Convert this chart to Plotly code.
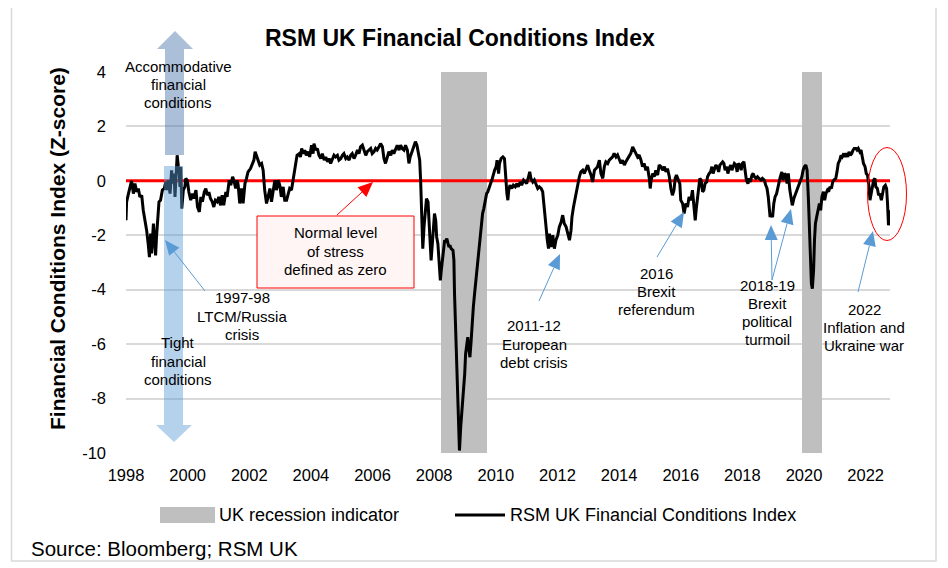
import plotly.graph_objects as go

# ---------------- data ----------------
years = [
    1998.00, 1998.02, 1998.08, 1998.13, 1998.18, 1998.24, 1998.29, 1998.35, 1998.40, 1998.45,
    1998.51, 1998.56, 1998.62, 1998.67, 1998.72, 1998.76, 1998.80, 1998.83, 1998.89, 1998.93,
    1998.96, 1998.99, 1999.03, 1999.07, 1999.12, 1999.18, 1999.24, 1999.29, 1999.32, 1999.37,
    1999.43, 1999.48, 1999.51, 1999.56, 1999.59, 1999.62, 1999.66, 1999.70, 1999.73, 1999.75,
    1999.78, 1999.81, 1999.86, 1999.91, 1999.94, 1999.99, 2000.04, 2000.10, 2000.16, 2000.20,
    2000.27, 2000.32, 2000.38, 2000.43, 2000.48, 2000.54, 2000.59, 2000.64, 2000.69, 2000.74,
    2000.80, 2000.85, 2000.90, 2000.96, 2001.01, 2001.07, 2001.12, 2001.17, 2001.24, 2001.28,
    2001.35, 2001.40, 2001.46, 2001.50, 2001.56, 2001.61, 2001.64, 2001.69, 2001.75, 2001.80,
    2001.86, 2001.91, 2001.96, 2002.04, 2002.10, 2002.15, 2002.19, 2002.23, 2002.29, 2002.34,
    2002.40, 2002.45, 2002.50, 2002.56, 2002.61, 2002.67, 2002.72, 2002.77, 2002.83, 2002.88,
    2002.94, 2002.99, 2003.04, 2003.10, 2003.15, 2003.21, 2003.26, 2003.31,
    2003.37, 2003.42, 2003.45, 2003.51, 2003.55, 2003.62, 2003.66, 2003.70, 2003.75, 2003.80,
    2003.85, 2003.91, 2003.96, 2004.02, 2004.07, 2004.10, 2004.16, 2004.21, 2004.26, 2004.32,
    2004.37, 2004.43, 2004.48, 2004.54, 2004.59, 2004.64, 2004.70, 2004.75, 2004.80, 2004.86,
    2004.91, 2004.97, 2005.02, 2005.07, 2005.13, 2005.18, 2005.24, 2005.29, 2005.34, 2005.40,
    2005.45, 2005.51, 2005.56, 2005.61, 2005.67, 2005.72, 2005.78, 2005.83, 2005.89, 2005.94,
    2005.99, 2006.05, 2006.10, 2006.15, 2006.21, 2006.26, 2006.32, 2006.37, 2006.42, 2006.48,
    2006.53, 2006.59, 2006.64, 2006.69, 2006.75, 2006.80, 2006.86, 2006.91, 2006.96, 2007.02,
    2007.07, 2007.13, 2007.18, 2007.22, 2007.28, 2007.33, 2007.39, 2007.44, 2007.49,
    2007.53, 2007.56, 2007.58, 2007.60, 2007.63, 2007.67, 2007.71, 2007.75, 2007.80, 2007.83,
    2007.86, 2007.90, 2007.94, 2007.97, 2008.01, 2008.05, 2008.08, 2008.12, 2008.15, 2008.20,
    2008.23, 2008.26, 2008.30, 2008.34, 2008.37, 2008.41, 2008.45, 2008.48, 2008.51, 2008.55,
    2008.61, 2008.64, 2008.66, 2008.69, 2008.73, 2008.76, 2008.78, 2008.80, 2008.82, 2008.86,
    2008.89, 2008.92, 2008.95, 2008.99, 2009.02, 2009.05, 2009.09, 2009.13, 2009.16, 2009.20,
    2009.23, 2009.27, 2009.31, 2009.35, 2009.39, 2009.44, 2009.48, 2009.52, 2009.57, 2009.61,
    2009.66, 2009.70, 2009.74, 2009.78, 2009.83, 2009.87, 2009.91, 2009.96,
    2010.01, 2010.04, 2010.09, 2010.12, 2010.17, 2010.23, 2010.28, 2010.31, 2010.36, 2010.39,
    2010.42, 2010.46, 2010.52, 2010.57, 2010.63, 2010.68, 2010.73, 2010.79, 2010.84, 2010.90,
    2010.95, 2011.00, 2011.06, 2011.10, 2011.14, 2011.20, 2011.25, 2011.31, 2011.36, 2011.41,
    2011.47, 2011.52, 2011.55, 2011.60, 2011.63, 2011.67, 2011.71, 2011.74, 2011.79, 2011.85,
    2011.90, 2011.95, 2012.01, 2012.06, 2012.12, 2012.17, 2012.22, 2012.28, 2012.33, 2012.39,
    2012.44, 2012.47, 2012.52, 2012.56, 2012.60, 2012.66, 2012.71, 2012.76, 2012.82, 2012.87,
    2012.93, 2012.98, 2013.03, 2013.09, 2013.14, 2013.20, 2013.25, 2013.30, 2013.36, 2013.41,
    2013.47, 2013.52, 2013.57, 2013.63, 2013.68, 2013.74, 2013.79, 2013.84, 2013.90, 2013.95,
    2014.01, 2014.06, 2014.11, 2014.17, 2014.22, 2014.28, 2014.33, 2014.38, 2014.44, 2014.49,
    2014.55, 2014.60, 2014.65, 2014.71, 2014.76, 2014.81, 2014.87, 2014.92, 2014.98, 2015.01,
    2015.04, 2015.09, 2015.14, 2015.19, 2015.25, 2015.30, 2015.36, 2015.41, 2015.47, 2015.52,
    2015.57, 2015.63, 2015.68, 2015.73, 2015.78, 2015.82, 2015.86, 2015.92, 2015.97, 2016.00,
    2016.06, 2016.11, 2016.17, 2016.22, 2016.27,
    2016.33, 2016.38, 2016.44, 2016.47, 2016.51, 2016.58, 2016.62, 2016.66, 2016.71, 2016.75,
    2016.79, 2016.84, 2016.87, 2016.92, 2016.97, 2017.01, 2017.05, 2017.10, 2017.14, 2017.18,
    2017.23, 2017.27, 2017.31, 2017.36, 2017.40, 2017.44, 2017.49, 2017.53, 2017.57, 2017.62,
    2017.66, 2017.70, 2017.74, 2017.79, 2017.83, 2017.87, 2017.92, 2017.96, 2018.00, 2018.05,
    2018.09, 2018.13, 2018.18, 2018.22, 2018.26, 2018.31, 2018.35, 2018.39, 2018.44, 2018.49,
    2018.54, 2018.60, 2018.65, 2018.71, 2018.76, 2018.80, 2018.84, 2018.87, 2018.90, 2018.93,
    2018.98, 2019.02, 2019.06, 2019.11, 2019.15, 2019.19, 2019.23, 2019.28, 2019.32, 2019.37,
    2019.41, 2019.45, 2019.49, 2019.54, 2019.58, 2019.62, 2019.67, 2019.71, 2019.75, 2019.80,
    2019.84, 2019.88, 2019.93, 2019.97, 2020.01, 2020.06, 2020.10, 2020.14, 2020.17, 2020.21,
    2020.24, 2020.27, 2020.31, 2020.34, 2020.37, 2020.41, 2020.46, 2020.50, 2020.54, 2020.58,
    2020.63, 2020.67, 2020.71, 2020.76, 2020.80, 2020.84, 2020.89, 2020.93, 2020.97, 2021.03,
    2021.07, 2021.11, 2021.16, 2021.20, 2021.24, 2021.29, 2021.33, 2021.37, 2021.42, 2021.46,
    2021.50, 2021.55, 2021.59, 2021.63, 2021.68, 2021.72, 2021.76, 2021.81, 2021.85, 2021.89,
    2021.93, 2021.98, 2022.02, 2022.06, 2022.11, 2022.14, 2022.17, 2022.22, 2022.26, 2022.30,
    2022.33, 2022.38, 2022.42, 2022.46, 2022.51, 2022.55, 2022.59, 2022.64, 2022.68, 2022.71,
    2022.74, 2022.76, 2022.78, 2022.79,
]

fci = [
    -1.45, -0.77, -0.47, -0.16, 0.00, -0.47, -0.10, -0.41, -0.28, -0.59,
    -0.53, -1.08, -1.45, -1.82, -2.31, -2.80, -1.94, -2.67, -1.57, -2.18,
    -2.74, -2.06, -1.20, -0.77, -0.71, -0.34, -0.28, -0.04, -0.34, 0.02,
    -0.47, 0.39, -0.10, 0.27, -0.59, 0.15, 0.94, 0.52, 0.27, -0.22,
    0.52, -1.02, -0.34, -0.22, 0.09, 0.02, -0.41, -0.71, -0.47, -0.65,
    -0.34, -0.96, -1.14, -0.59, -0.77, -0.41, -0.28, -0.53, -0.41, -0.65,
    -0.77, -0.96, -0.71, -0.77, -0.59, -0.90, -0.53, -0.90, -0.41, -0.59,
    0.02, -0.16, 0.15, 0.02, -0.28, 0.02, -0.16, -0.83, -0.28, -0.83,
    -0.10, 0.09, 0.33, 0.45, 0.64, 0.76, 1.07, 0.94, 0.70, 0.58,
    0.64, 0.39, -0.34, -0.83, -0.59, -0.28, -0.77, -0.47, 0.02, -0.34,
    0.02, -0.16, -0.59, -0.22, -0.71, -0.71, -0.53, -0.28,
    -0.34, 0.02, 0.33, 0.64, 0.94, 1.00, 0.88, 1.19, 1.00, 1.13,
    0.94, 1.07, 0.88, 1.31, 1.00, 1.37, 1.13, 1.19, 0.94, 0.82,
    1.00, 0.76, 0.88, 0.70, 0.82, 0.64, 0.82, 0.94, 0.88, 0.94,
    0.76, 0.82, 0.94, 1.00, 0.82, 0.88, 0.76, 0.94, 1.00, 0.82,
    0.94, 1.13, 1.00, 1.25, 1.31, 1.13, 0.94, 1.07, 1.13, 1.19,
    1.00, 1.07, 1.19, 1.13, 1.25, 1.37, 1.25, 0.82, 0.64, 0.88,
    1.07, 0.94, 1.13, 1.00, 1.19, 1.31, 1.13, 1.31, 1.19, 1.13,
    1.31, 1.13, 0.64, 0.88, 1.07, 1.25, 1.44, 1.31, 1.00,
    0.76, 0.02, -0.83, -1.82, -2.49, -1.69, -0.96, -0.65, -0.77, -1.33,
    -2.06, -2.92, -2.31, -1.69, -1.20, -1.45, -2.06, -2.31, -2.92, -3.66,
    -3.29, -2.92, -2.43, -2.18, -2.25, -2.12, -2.31, -2.43, -2.37, -2.49,
    -2.55, -2.92, -4.15, -5.37, -6.60, -7.83, -9.05, -9.79, -9.91, -9.05,
    -8.56, -8.07, -7.95, -7.09, -6.35, -6.11, -5.74, -6.23, -6.48, -5.86,
    -5.13, -4.64, -4.15, -3.66, -3.29, -2.80, -2.31, -1.69, -1.20, -1.02,
    -0.71, -0.47, -0.40, -0.22, -0.10, 0.02, 0.21, 0.39,
    0.52, 0.76, 0.27, 0.64, 0.82, 0.88, 0.82, 0.27, -0.47, -0.71,
    -0.34, -0.16, -0.28, -0.16, -0.22, -0.10, -0.22, -0.04, -0.16, 0.03,
    -0.04, -0.10, 0.15, 0.33, 0.09, -0.04, 0.03, -0.16, -0.28, -0.22,
    -0.28, -0.40, -0.83, -1.45, -1.69, -2.18, -2.49, -1.94, -2.43, -2.00,
    -2.49, -2.18, -2.00, -1.69, -1.51, -1.26, -1.57, -1.69, -1.94, -2.18,
    -1.82, -1.33, -0.96, -0.71, -0.59, -0.22, 0.15, 0.33, 0.39, 0.27,
    0.45, 0.58, 0.39, 0.21, -0.04, 0.39, 0.45, 0.52, 0.76, 0.27,
    0.09, 0.52, 0.70, 0.64, 0.76, 0.82, 0.88, 1.01, 0.88, 0.95,
    0.76, 0.64, 0.76, 0.58, 0.70, 0.82, 0.88, 1.01, 1.25, 1.13,
    1.01, 0.88, 0.95, 0.76, 0.52, 0.64, 0.39, 0.52, 0.09, -0.28,
    0.03, 0.27, 0.15, 0.39, 0.21, 0.58, 0.52, 0.39, 0.52, 0.33,
    0.45, 0.15, -0.28, -0.53, -0.34, 0.09, 0.21, 0.03, -0.10, -0.71,
    -0.83, -1.20, -0.83, -0.96, -0.59,
    -0.71, -0.34, -1.08, -1.45, -0.96, -0.28, 0.09, 0.03, -0.40, -0.34,
    -0.10, -0.04, 0.15, 0.27, 0.33, 0.52, 0.27, 0.45, 0.58, 0.52,
    0.33, 0.58, 0.64, 0.70, 0.64, 0.39, 0.52, 0.27, 0.45, 0.58,
    0.39, 0.52, 0.64, 0.58, 0.33, 0.64, 0.58, 0.39, 0.64, 0.70,
    0.39, 0.03, -0.10, 0.09, -0.04, 0.21, 0.27, 0.15, 0.09, 0.15,
    0.09, 0.03, 0.09, 0.03, -0.16, -0.28, -0.59, -0.96, -1.33, -1.20,
    -1.33, -0.83, -0.59, -0.47, -0.22, -0.10, 0.15, 0.33, 0.03, 0.27,
    0.21, -0.10, 0.27, -0.34, -0.71, -0.90, -0.65, -0.53, -0.34, -0.22,
    -0.10, 0.03, 0.15, 0.39, 0.52, 0.58, 0.39, -0.59, -1.82, -3.04,
    -3.78, -3.96, -3.29, -2.18, -1.57, -1.33, -1.08, -0.83, -1.08, -0.59,
    -0.40, -0.71, -0.47, -0.34, -0.40, -0.22, -0.28, -0.04, 0.03, 0.09,
    0.33, 0.64, 0.76, 0.94, 0.88, 1.01, 0.88, 1.01, 0.88, 1.07,
    0.94, 1.01, 1.13, 1.19, 1.19, 1.13, 1.19, 1.07, 1.13, 0.88,
    0.64, 0.52, 0.27, 0.21, -0.22, -0.71, -0.47, -0.22, 0.03, 0.09,
    -0.22, -0.28, -0.53, -0.47, -0.71, -0.40, -0.22, -0.16, -0.28, -0.83,
    -1.63, -1.45, -1.14, -1.08,
]

recession_start = [2008.21, 2019.95]
recession_end = [2009.72, 2020.57]

normal_level = 0  # stress level defined as zero

x_ticks = [1998, 2000, 2002, 2004, 2006, 2008, 2010, 2012, 2014, 2016, 2018, 2020, 2022]
y_ticks = [4, 2, 0, -2, -4, -6, -8, -10]

X_RANGE = [1998, 2022.79]
Y_RANGE = [-10, 4]

# ---------------- layout geometry (page pixels) ----------------
PAGE_W, PAGE_H = 948, 568
OFF = 8                      # default body margin of the html page
W, H = PAGE_W - OFF, PAGE_H - OFF
L, R, T, B = 126, 890, 72, 453
FONT = "Liberation Sans, Arial, sans-serif"


def fx(px):
    return (px - L) / (R - L)


def fy(py):
    return (B - py) / (B - T)


def pth(points):
    return "M " + " L ".join(f"{fx(x):.5f},{fy(y):.5f}" for x, y in points) + " Z"


shapes = []
annotations = []


def arrow(x0, y0, x1, y1, color, hl=15, hw=13, lw=1):
    dx, dy = x1 - x0, y1 - y0
    d = (dx * dx + dy * dy) ** 0.5
    ux, uy = dx / d, dy / d
    bx, by = x1 - ux * hl, y1 - uy * hl
    nx, ny = -uy, ux
    shapes.append(dict(type="line", xref="paper", yref="paper",
                       x0=fx(x0), y0=fy(y0), x1=fx(bx), y1=fy(by),
                       line=dict(color=color, width=lw), layer="above"))
    shapes.append(dict(type="path", xref="paper", yref="paper",
                       path=pth([(x1, y1), (bx + nx * hw / 2, by + ny * hw / 2),
                                 (bx - nx * hw / 2, by - ny * hw / 2)]),
                       fillcolor=color, line=dict(width=0), layer="above"))


def text(t, px, py, size=15, xanchor="center", bold=False, angle=0, spacing=18.2):
    lines = t.split("\n")
    n = len(lines)
    for i, ln in enumerate(lines):
        yy = py + (i - (n - 1) / 2) * spacing
        if bold:
            ln = f"<b>{ln}</b>"
        annotations.append(dict(text=ln, x=fx(px), y=fy(yy), xref="paper", yref="paper",
                                showarrow=False, xanchor=xanchor, yanchor="middle",
                                textangle=angle,
                                font=dict(family=FONT, size=size, color="#000")))


fig = go.Figure()

# recession indicator bars
fig.add_trace(go.Bar(
    x=[(s + e) / 2 for s, e in zip(recession_start, recession_end)],
    width=[e - s for s, e in zip(recession_start, recession_end)],
    y=[Y_RANGE[1] - Y_RANGE[0]] * len(recession_start),
    base=[Y_RANGE[0]] * len(recession_start),
    marker=dict(color="#bfbfbf", line=dict(width=0)),
    name="UK recession indicator", showlegend=False, hoverinfo="skip",
))

# zero line (normal level of stress)
fig.add_trace(go.Scatter(
    x=X_RANGE, y=[normal_level, normal_level], mode="lines",
    line=dict(color="#ff0000", width=3), showlegend=False, hoverinfo="skip",
))

# index line
fig.add_trace(go.Scatter(
    x=years, y=fci, mode="lines",
    line=dict(color="#000000", width=3),
    name="RSM UK Financial Conditions Index", showlegend=False,
))

# big direction arrows (semi-transparent)
shapes.append(dict(type="path", xref="paper", yref="paper",
                   path=pth([(165, 155), (165, 49), (157, 49), (175, 31), (193, 49), (184, 49), (184, 155)]),
                   fillcolor="rgba(68,114,170,0.45)", line=dict(width=0), layer="above"))
shapes.append(dict(type="path", xref="paper", yref="paper",
                   path=pth([(164, 166), (183, 166), (183, 425), (192, 425), (174, 442), (156, 425), (164, 425)]),
                   fillcolor="rgba(91,155,213,0.45)", line=dict(width=0), layer="above"))

# normal-level box
shapes.append(dict(type="rect", xref="paper", yref="paper",
                   x0=fx(257), x1=fx(414), y0=fy(288), y1=fy(216),
                   fillcolor="#fff5f5", line=dict(color="#ff0000", width=1), layer="above"))

# red ellipse around 2022
shapes.append(dict(type="circle", xref="paper", yref="paper",
                   x0=fx(867.5), x1=fx(906.5), y0=fy(240.5), y1=fy(147.5),
                   line=dict(color="#ff0000", width=1), layer="above"))

# arrows
BLUE = "#5b9bd5"
arrow(205, 291, 165, 240, BLUE)
arrow(337, 215, 373, 182, "#ff0000")
arrow(539, 301, 560, 254, BLUE)
arrow(657, 257, 684, 212, BLUE)
arrow(772, 280, 771, 225, BLUE)
arrow(772, 280, 791, 209, BLUE)
arrow(858, 292, 873, 231, BLUE)

# chart border
shapes.append(dict(type="rect", xref="paper", yref="paper",
                   x0=fx(11.5), x1=fx(936), y0=fy(561), y1=fy(2.5),
                   line=dict(color="#d9d9d9", width=1.5), fillcolor="rgba(0,0,0,0)", layer="below"))

# manual legend
shapes.append(dict(type="rect", xref="paper", yref="paper",
                   x0=fx(160), x1=fx(215), y0=fy(523), y1=fy(507),
                   fillcolor="#bfbfbf", line=dict(width=0)))
shapes.append(dict(type="line", xref="paper", yref="paper",
                   x0=fx(455), x1=fx(505), y0=fy(515), y1=fy(515),
                   line=dict(color="#000", width=3)))

# texts
text("RSM UK Financial Conditions Index", 460, 38, size=23, bold=True)
text("Financial Conditions Index (Z-score)", 58, 249, size=21, bold=True, angle=-90)
text("Accommodative\nfinancial\nconditions", 178, 84.5)
text("Tight\nfinancial\nconditions", 178, 361)
text("1997-98\nLTCM/Russia\ncrisis", 242, 316)
text("Normal level\nof stress\ndefined as zero", 335.5, 251)
text("2011-12\nEuropean\ndebt crisis", 534, 344)
text("2016\nBrexit\nreferendum", 656, 291.5)
text("2018-19\nBrexit\npolitical\nturmoil", 767, 312.5)
text("2022\nInflation and\nUkraine war", 864, 327.5)
text("UK recession indicator", 217, 515, size=18, xanchor="left")
text("RSM UK Financial Conditions Index", 508, 515, size=18, xanchor="left")
text("Source: Bloomberg; RSM UK", 29, 548, size=20.5, xanchor="left")

fig.update_layout(
    width=W, height=H,
    margin=dict(l=L - OFF, r=PAGE_W - R, t=T - OFF, b=PAGE_H - B, pad=0),
    paper_bgcolor="white", plot_bgcolor="white",
    showlegend=False,
    shapes=shapes, annotations=annotations,
    font=dict(family=FONT, size=16.5, color="#000"),
    bargap=0,
    xaxis=dict(range=X_RANGE, tickvals=x_ticks, ticktext=[str(v) for v in x_ticks],
               showgrid=False, zeroline=False, showline=False, ticks="",
               ticklabelstandoff=10, tickfont=dict(size=16.5)),
    yaxis=dict(range=Y_RANGE, tickvals=y_ticks, ticktext=[str(v) for v in y_ticks],
               showgrid=True, gridcolor="#d9d9d9", gridwidth=1.5,
               zeroline=False, showline=False, ticks="",
               ticklabelstandoff=19, tickfont=dict(size=16.5)),
)

fig.write_html("out.html")
